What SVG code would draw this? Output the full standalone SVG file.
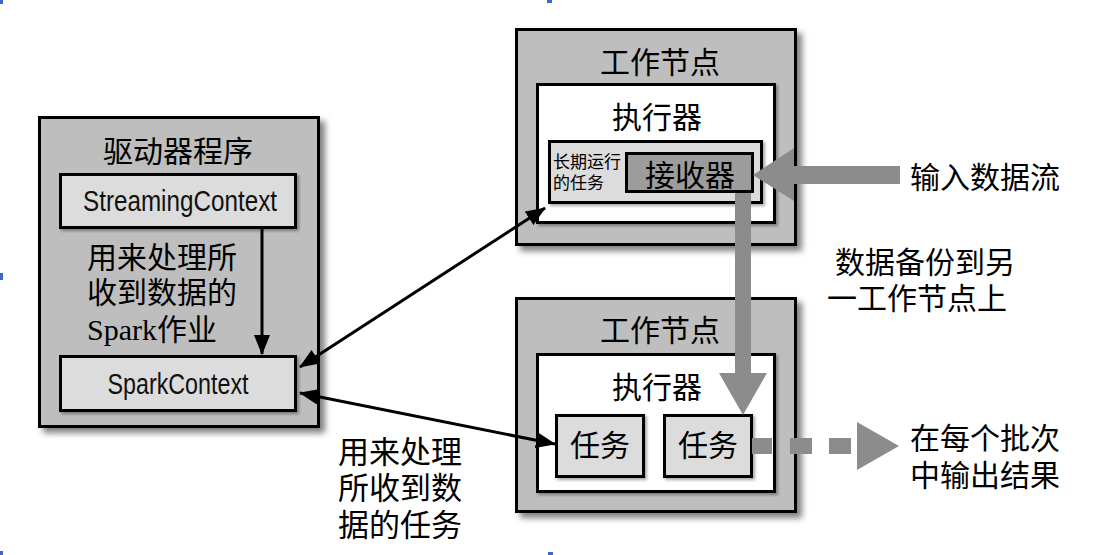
<svg xmlns="http://www.w3.org/2000/svg" width="1097" height="555" viewBox="0 0 1097 555">
<style>
.outer{fill:#bebebe;stroke:#000;stroke-width:3}
.exec{fill:#fff;stroke:#000;stroke-width:3}
.light{fill:#dcdcdc;stroke:#000;stroke-width:3}
.recv{fill:#9c9c9c;stroke:#000;stroke-width:3}
.cjk{font-family:"Liberation Serif","Noto Sans CJK SC",serif;fill:#000}
.sans{font-family:"Liberation Sans","Noto Sans",sans-serif;fill:#111}
.gray{fill:#8c8c8c}
.blk{stroke:#000;stroke-width:3;fill:none}
.mark{fill:#3a66d0}
</style>
<defs>
<filter id="sh" x="-10%" y="-10%" width="125%" height="125%">
<feDropShadow dx="5" dy="5" stdDeviation="3" flood-color="#000" flood-opacity="0.5"/>
</filter>
<filter id="sh2" x="-10%" y="-10%" width="125%" height="125%">
<feDropShadow dx="2" dy="2" stdDeviation="1.5" flood-color="#000" flood-opacity="0.35"/>
</filter>
<marker id="ah" viewBox="0 0 20 16" refX="19" refY="8" markerWidth="20" markerHeight="16" markerUnits="userSpaceOnUse" orient="auto-start-reverse">
<path d="M0,0 L20,8 L0,16 Z" fill="#000"/>
</marker>
</defs>

<g id="marks">
<rect class="mark" x="0" y="0" width="3" height="4"/>
<rect class="mark" x="547" y="0" width="5" height="3"/>
<rect class="mark" x="0" y="273" width="3" height="7"/>
<rect class="mark" x="0" y="551" width="3" height="4"/>
<rect class="mark" x="548" y="552" width="5" height="3"/>
</g>

<g id="driver">
<rect class="outer" x="39.5" y="117.5" width="279" height="309" filter="url(#sh)"/>
<text class="cjk" x="178" y="162" font-size="30" text-anchor="middle">驱动器程序</text>
</g>
<g id="streamingcontext">
<rect class="light" x="60.5" y="174.5" width="235" height="53" filter="url(#sh2)"/>
<text class="sans" x="180" y="211" font-size="30" text-anchor="middle" textLength="194" lengthAdjust="spacingAndGlyphs">StreamingContext</text>
</g>
<g id="sparkcontext">
<rect class="light" x="60.5" y="356.5" width="235" height="54" filter="url(#sh2)"/>
<text class="sans" x="178" y="394" font-size="30" text-anchor="middle" textLength="141" lengthAdjust="spacingAndGlyphs">SparkContext</text>
</g>
<g id="driver-label">
<text class="cjk" x="87" y="268" font-size="30">用来处理所</text>
<text class="cjk" x="87" y="303" font-size="30">收到数据的</text>
<text class="cjk" x="87" y="340" font-size="30">Spark作业</text>
</g>

<g id="worker1">
<rect class="outer" x="516.5" y="29.5" width="279" height="215" filter="url(#sh)"/>
<text class="cjk" x="660" y="72.5" font-size="30" text-anchor="middle">工作节点</text>
</g>
<g id="executor1">
<rect class="exec" x="537.5" y="84.5" width="237" height="138" filter="url(#sh2)"/>
<text class="cjk" x="657" y="127.5" font-size="30" text-anchor="middle">执行器</text>
</g>
<g id="longtask">
<rect class="light" x="549.5" y="141.5" width="212" height="61" filter="url(#sh2)"/>
<text class="cjk" x="553" y="168" font-size="17">长期运行</text>
<text class="cjk" x="553" y="189" font-size="17">的任务</text>
</g>
<g id="receiver">
<rect class="recv" x="626.5" y="153.5" width="126" height="38"/>
<text class="cjk" x="690" y="186" font-size="30" text-anchor="middle">接收器</text>
</g>

<g id="worker2">
<rect class="outer" x="516.5" y="298.5" width="279" height="213" filter="url(#sh)"/>
<text class="cjk" x="660" y="340.5" font-size="30" text-anchor="middle">工作节点</text>
</g>
<g id="executor2">
<rect class="exec" x="537.5" y="354.5" width="237" height="137" filter="url(#sh2)"/>
<text class="cjk" x="657" y="397.5" font-size="30" text-anchor="middle">执行器</text>
</g>
<g id="task1">
<rect class="light" x="556.5" y="415.5" width="87" height="61" filter="url(#sh2)"/>
<text class="cjk" x="600" y="455.5" font-size="30" text-anchor="middle">任务</text>
</g>
<g id="task2">
<rect class="light" x="664.5" y="415.5" width="87" height="61" filter="url(#sh2)"/>
<text class="cjk" x="708" y="455.5" font-size="30" text-anchor="middle">任务</text>
</g>

<g id="connectors">
<line class="blk" x1="262" y1="229" x2="262" y2="354" marker-end="url(#ah)"/>
<line class="blk" x1="300" y1="367" x2="545" y2="208" marker-start="url(#ah)" marker-end="url(#ah)"/>
<line class="blk" x1="300" y1="393" x2="555" y2="444" marker-start="url(#ah)" marker-end="url(#ah)"/>
<polygon class="gray" points="900,166 794,166 794,148 753,175 794,201 794,184 900,184"/>
<polygon class="gray" points="735,193 751,193 751,373 767,373 743,415 719,373 735,373"/>
<rect class="gray" x="752" y="438" width="20" height="16"/>
<rect class="gray" x="790" y="438" width="22" height="16"/>
<rect class="gray" x="829" y="438" width="22" height="16"/>
<polygon class="gray" points="857,422 899,446 857,470"/>
</g>

<g id="labels">
<text class="cjk" x="910" y="187.5" font-size="30">输入数据流</text>
<text class="cjk" x="835" y="272.5" font-size="30">数据备份到另</text>
<text class="cjk" x="827" y="308.5" font-size="30">一工作节点上</text>
<text class="cjk" x="910" y="448.5" font-size="30">在每个批次</text>
<text class="cjk" x="910" y="485.5" font-size="30">中输出结果</text>
<text class="cjk" x="338" y="462.5" font-size="31">用来处理</text>
<text class="cjk" x="338" y="498.5" font-size="31">所收到数</text>
<text class="cjk" x="338" y="535.5" font-size="31">据的任务</text>
</g>
</svg>
